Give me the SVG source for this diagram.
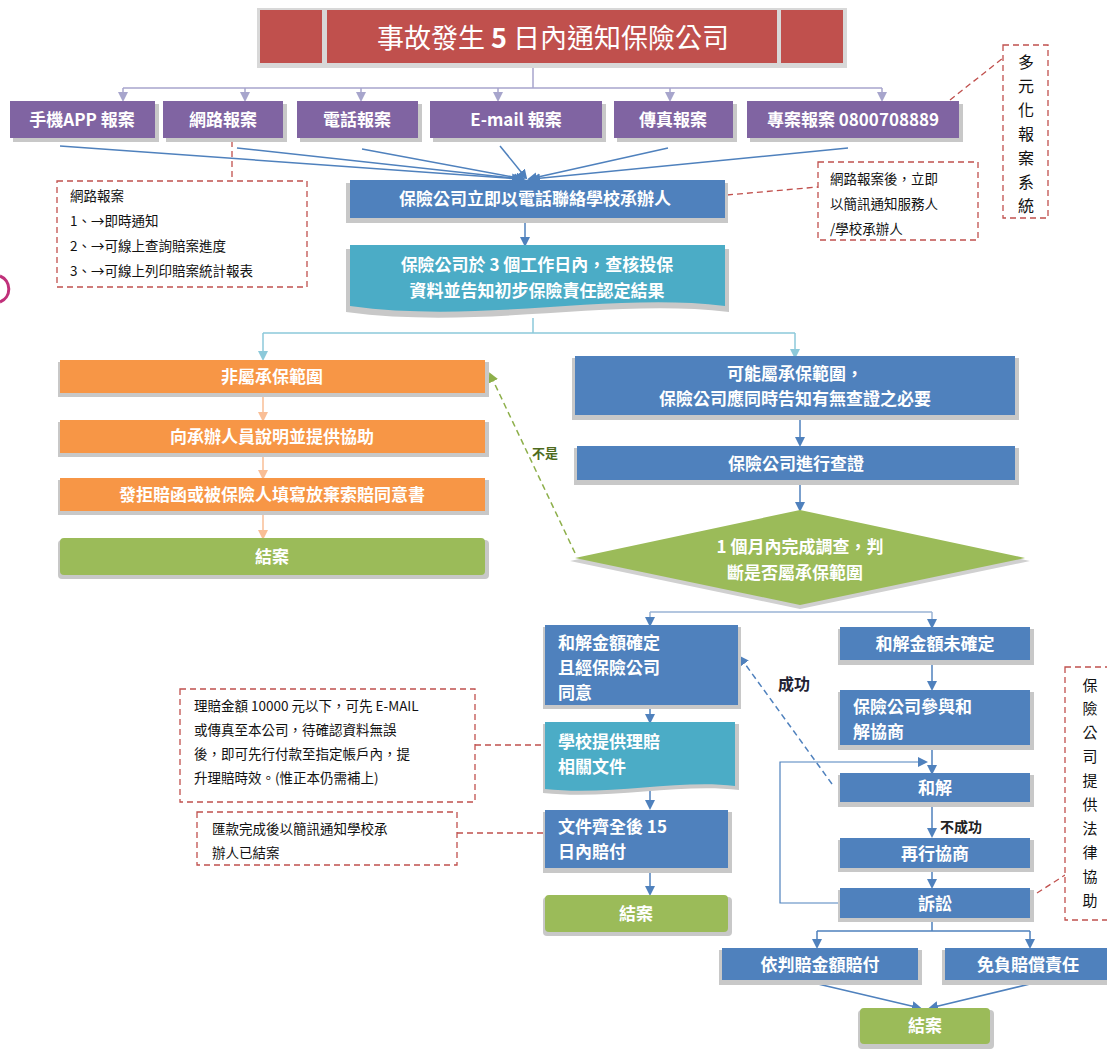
<svg xmlns="http://www.w3.org/2000/svg" width="1107" height="1050" viewBox="0 0 1107 1050">
<defs>
<style>
.t{font-family:"Noto Sans CJK TC","Noto Sans CJK SC",sans-serif;}
.w{fill:#fff;font-weight:bold;font-size:17px;}
.a{fill:#111;font-size:13.5px;}
.v{font-size:16px;}
.v2{font-size:15px;}
.sh{fill:#c8c8c8;}
.pur{fill:#8064A2;}
.blu{fill:#4F81BD;}
.tea{fill:#4BACC6;}
.ora{fill:#F79646;}
.gre{fill:#9BBB59;}
.red{fill:#C0504D;}
.note{fill:#fff;stroke:#C0504D;stroke-width:1.3;stroke-dasharray:6,4;}
.nl{fill:none;stroke:#C0504D;stroke-width:1.3;stroke-dasharray:6,4;}
.cp{fill:none;stroke:#A7A5CC;stroke-width:1.5;}
.cb{fill:none;stroke:#4F81BD;stroke-width:1.5;}
.ct{fill:none;stroke:#8CC9DA;stroke-width:1.5;}
.co{fill:none;stroke:#F9BE96;stroke-width:1.5;}
</style>
<marker id="mp" markerWidth="10" markerHeight="10" refX="8" refY="5" orient="auto" markerUnits="userSpaceOnUse"><path d="M0,0 L10,5 L0,10 z" fill="#A7A5CC"/></marker>
<marker id="mb" markerWidth="10" markerHeight="10" refX="8" refY="5" orient="auto" markerUnits="userSpaceOnUse"><path d="M0,0 L10,5 L0,10 z" fill="#4F81BD"/></marker>
<marker id="mt" markerWidth="10" markerHeight="10" refX="8" refY="5" orient="auto" markerUnits="userSpaceOnUse"><path d="M0,0 L10,5 L0,10 z" fill="#8CC9DA"/></marker>
<marker id="mo" markerWidth="10" markerHeight="10" refX="8" refY="5" orient="auto" markerUnits="userSpaceOnUse"><path d="M0,0 L10,5 L0,10 z" fill="#F9BE96"/></marker>
<marker id="mg" markerWidth="10" markerHeight="10" refX="8" refY="5" orient="auto" markerUnits="userSpaceOnUse"><path d="M0,0 L10,5 L0,10 z" fill="#8DAF4A"/></marker>
</defs>
<rect width="1107" height="1050" fill="#fff"/>
<path d="M0,276 A14,14 0 0 1 0,302" fill="none" stroke="#C0307A" stroke-width="3"/>

<g id="connectors">
<path class="cp" d="M533,66 V88"/>
<path class="cp" d="M123,88 H882"/>
<path class="cp" d="M123,88 V100" marker-end="url(#mp)"/>
<path class="cp" d="M245,88 V100" marker-end="url(#mp)"/>
<path class="cp" d="M361,88 V100" marker-end="url(#mp)"/>
<path class="cp" d="M498,88 V100" marker-end="url(#mp)"/>
<path class="cp" d="M670,88 V100" marker-end="url(#mp)"/>
<path class="cp" d="M882,88 V100" marker-end="url(#mp)"/>
<path class="cb" d="M60,146 L520,179" marker-end="url(#mb)"/>
<path class="cb" d="M237,148 L522,179" marker-end="url(#mb)"/>
<path class="cb" d="M362,149 L524,179" marker-end="url(#mb)"/>
<path class="cb" d="M500,146 L526,178" marker-end="url(#mb)"/>
<path class="cb" d="M668,148 L529,179" marker-end="url(#mb)"/>
<path class="cb" d="M848,148 L532,179" marker-end="url(#mb)"/>
<path class="cb" d="M525,222 V245" marker-end="url(#mb)"/>
<path class="ct" d="M533,318 V333 M263,333 H795"/>
<path class="ct" d="M263,333 V359" marker-end="url(#mt)"/>
<path class="ct" d="M795,333 V357" marker-end="url(#mt)"/>
<path class="co" d="M263,397 V420" marker-end="url(#mo)"/>
<path class="co" d="M263,457 V478" marker-end="url(#mo)"/>
<path class="co" d="M263,515 V538" marker-end="url(#mo)"/>
<path class="cb" d="M800,419 V445" marker-end="url(#mb)"/>
<path class="cb" d="M800,484 V510" marker-end="url(#mb)"/>
<path d="M575,553 L490,374" fill="none" stroke="#8DAF4A" stroke-width="1.5" stroke-dasharray="6,4" marker-end="url(#mg)"/>
<text class="t" x="532" y="458" font-size="13" font-weight="bold" fill="#4E6B1E">不是</text>
<path class="cp" d="M650,612 H932" style="stroke:#9AB3D5"/>
<path class="cp" d="M650,612 V625" style="stroke:#9AB3D5" marker-end="url(#mb)"/>
<path class="cp" d="M932,612 V627" style="stroke:#9AB3D5" marker-end="url(#mb)"/>
<path class="cb" d="M650,707 V722" marker-end="url(#mb)"/>
<path class="cb" d="M650,785 V808" marker-end="url(#mb)"/>
<path class="cb" d="M650,872 V894" marker-end="url(#mb)"/>
<path class="cb" d="M932,662 V689" marker-end="url(#mb)"/>
<path class="cb" d="M932,748 V773" marker-end="url(#mb)"/>
<path class="cb" d="M932,806 V836" marker-end="url(#mb)"/>
<text class="t" x="940" y="832" font-size="14" font-weight="bold" fill="#222">不成功</text>
<path class="cb" d="M932,871 V887" marker-end="url(#mb)"/>
<path class="cb" d="M838,903 H780 V762 H926" marker-end="url(#mb)" style="stroke-width:1.2"/>
<path class="cb" d="M832,784 L740,657" stroke-dasharray="6,4" marker-end="url(#mb)"/>
<text class="t" x="778" y="690" font-size="16" font-weight="bold" fill="#223">成功</text>
<path class="cb" d="M932,921 V931 M817,931 H1030"/>
<path class="cb" d="M817,931 V947" marker-end="url(#mb)"/>
<path class="cb" d="M1030,931 V947" marker-end="url(#mb)"/>
<path class="cb" d="M818,984 L920,1008" marker-end="url(#mb)"/>
<path class="cb" d="M1030,984 L930,1008" marker-end="url(#mb)"/>
<path class="nl" d="M232,141 V180"/>
<path class="nl" d="M727,195 L818,187"/>
<path class="nl" d="M950,100 L1003,58"/>
<path class="nl" d="M455,745 H545"/>
<path class="nl" d="M457,833 H545"/>
<path class="nl" d="M1037,893 L1065,875"/>
</g>

<g id="title">
<rect x="257" y="8" width="590" height="60" fill="#d8d8d8"/>
<rect class="red" x="260" y="10" width="62" height="53"/>
<rect class="red" x="327" y="10" width="450" height="53"/>
<rect class="red" x="781" y="10" width="62" height="53"/>
<text class="t" x="553" y="48" text-anchor="middle" font-size="27" fill="#fff">事故發生 <tspan font-weight="bold">5</tspan> 日內通知保險公司</text>
</g>

<g id="report-app"><rect class="sh" x="13" y="104" width="146" height="38"/><rect class="pur" x="10" y="101" width="145" height="37"/><text class="t w" x="82" y="126" text-anchor="middle">手機APP 報案</text></g>
<g id="report-web"><rect class="sh" x="166" y="104" width="121" height="38"/><rect class="pur" x="163" y="101" width="120" height="37"/><text class="t w" x="223" y="126" text-anchor="middle">網路報案</text></g>
<g id="report-phone"><rect class="sh" x="300" y="104" width="122" height="38"/><rect class="pur" x="297" y="101" width="121" height="37"/><text class="t w" x="357" y="126" text-anchor="middle">電話報案</text></g>
<g id="report-email"><rect class="sh" x="433" y="104" width="173" height="38"/><rect class="pur" x="430" y="101" width="172" height="37"/><text class="t w" x="516" y="126" text-anchor="middle">E-mail 報案</text></g>
<g id="report-fax"><rect class="sh" x="617" y="104" width="120" height="38"/><rect class="pur" x="614" y="101" width="119" height="37"/><text class="t w" x="673" y="126" text-anchor="middle">傳真報案</text></g>
<g id="report-hotline"><rect class="sh" x="750" y="104" width="213" height="38"/><rect class="pur" x="747" y="101" width="212" height="37"/><text class="t w" x="853" y="126" text-anchor="middle">專案報案 0800708889</text></g>

<g id="call-school"><rect class="sh" x="346" y="183" width="382" height="40"/><rect class="blu" x="350" y="180" width="375" height="38"/><text class="t w" x="535" y="205" text-anchor="middle">保險公司立即以電話聯絡學校承辦人</text></g>
<g id="check-3days">
<path d="M346,249 H729 V312 C610,298 480,330 346,312 Z" fill="#c8c8c8"/>
<path class="tea" d="M350,245 H725 V306 C610,292 480,324 350,306 Z"/>
<text class="t w" x="537" y="271" text-anchor="middle">保險公司於 3 個工作日內，查核投保</text>
<text class="t w" x="537" y="297" text-anchor="middle">資料並告知初步保險責任認定結果</text>
</g>

<g id="not-covered"><rect class="sh" x="58" y="362" width="431" height="35"/><rect class="ora" x="60" y="360" width="425" height="33"/><text class="t w" x="272" y="383" text-anchor="middle">非屬承保範圍</text></g>
<g id="explain"><rect class="sh" x="58" y="422" width="431" height="35"/><rect class="ora" x="60" y="420" width="425" height="33"/><text class="t w" x="272" y="443" text-anchor="middle">向承辦人員說明並提供協助</text></g>
<g id="reject-letter"><rect class="sh" x="58" y="480" width="431" height="35"/><rect class="ora" x="60" y="478" width="425" height="33"/><text class="t w" x="272" y="501" text-anchor="middle">發拒賠函或被保險人填寫放棄索賠同意書</text></g>
<g id="close-left"><rect class="sh" x="58" y="540" width="431" height="39" rx="4"/><rect class="gre" x="60" y="538" width="425" height="37" rx="4"/><text class="t w" x="272" y="563" text-anchor="middle">結案</text></g>

<g id="maybe-covered"><rect class="sh" x="572" y="358" width="447" height="62"/><rect class="blu" x="575" y="356" width="440" height="59"/><text class="t w" x="795" y="380" text-anchor="middle">可能屬承保範圍，</text><text class="t w" x="795" y="405" text-anchor="middle">保險公司應同時告知有無查證之必要</text></g>
<g id="verify"><rect class="sh" x="574" y="448" width="445" height="37"/><rect class="blu" x="577" y="446" width="438" height="34"/><text class="t w" x="796" y="470" text-anchor="middle">保險公司進行查證</text></g>
<g id="decision">
<path d="M800,512 L1030,561 L800,609 L570,561 Z" fill="#d0d0d0"/>
<path class="gre" d="M800,510 L1025,558 L800,605 L575,558 Z"/>
<text class="t w" x="800" y="553" text-anchor="middle">1 個月內完成調查，判</text>
<text class="t w" x="795" y="579" text-anchor="middle">斷是否屬承保範圍</text>
</g>

<g id="settled-amount"><rect class="sh" x="543" y="627" width="198" height="82"/><rect class="blu" x="545" y="625" width="193" height="80"/><text class="t w" x="558" y="649">和解金額確定</text><text class="t w" x="558" y="674">且經保險公司</text><text class="t w" x="558" y="699">同意</text></g>
<g id="school-docs">
<path d="M543,724 H739 V790 C680,783 610,800 543,793 Z" fill="#c8c8c8"/>
<path class="tea" d="M545,722 H735 V786 C680,779 610,796 545,789 Z"/>
<text class="t w" x="558" y="748">學校提供理賠</text><text class="t w" x="558" y="773">相關文件</text>
</g>
<g id="pay-15days"><rect class="sh" x="543" y="812" width="189" height="61"/><rect class="blu" x="545" y="810" width="183" height="58"/><text class="t w" x="558" y="833">文件齊全後 15</text><text class="t w" x="558" y="858">日內賠付</text></g>
<g id="close-mid"><rect class="sh" x="543" y="897" width="189" height="39" rx="4"/><rect class="gre" x="545" y="895" width="183" height="37" rx="4"/><text class="t w" x="636" y="920" text-anchor="middle">結案</text></g>

<g id="unsettled"><rect class="sh" x="838" y="629" width="196" height="36"/><rect class="blu" x="840" y="627" width="190" height="33"/><text class="t w" x="935" y="650" text-anchor="middle">和解金額未確定</text></g>
<g id="negotiate"><rect class="sh" x="838" y="692" width="196" height="58"/><rect class="blu" x="840" y="690" width="190" height="55"/><text class="t w" x="853" y="713">保險公司參與和</text><text class="t w" x="853" y="738">解協商</text></g>
<g id="settle"><rect class="sh" x="838" y="775" width="196" height="32"/><rect class="blu" x="840" y="773" width="190" height="29"/><text class="t w" x="935" y="794" text-anchor="middle">和解</text></g>
<g id="renegotiate"><rect class="sh" x="838" y="840" width="196" height="32"/><rect class="blu" x="840" y="838" width="190" height="30"/><text class="t w" x="935" y="860" text-anchor="middle">再行協商</text></g>
<g id="lawsuit"><rect class="sh" x="838" y="890" width="196" height="32"/><rect class="blu" x="840" y="888" width="190" height="30"/><text class="t w" x="935" y="910" text-anchor="middle">訴訟</text></g>
<g id="pay-judgment"><rect class="sh" x="719" y="950" width="203" height="35"/><rect class="blu" x="722" y="948" width="196" height="32"/><text class="t w" x="820" y="971" text-anchor="middle">依判賠金額賠付</text></g>
<g id="exempt"><rect class="sh" x="942" y="950" width="165" height="35"/><rect class="blu" x="945" y="948" width="162" height="32"/><text class="t w" x="1028" y="971" text-anchor="middle">免負賠償責任</text></g>
<g id="close-bottom"><rect class="sh" x="858" y="1010" width="136" height="39" rx="4"/><rect class="gre" x="860" y="1008" width="130" height="36" rx="4"/><text class="t w" x="925" y="1032" text-anchor="middle">結案</text></g>

<g id="note-web">
<rect class="note" x="57" y="181" width="250" height="106"/>
<text class="t a" x="70" y="201">網路報案</text>
<text class="t a" x="70" y="226">1、→即時通知</text>
<text class="t a" x="70" y="251">2、→可線上查詢賠案進度</text>
<text class="t a" x="70" y="276">3、→可線上列印賠案統計報表</text>
</g>
<g id="note-sms">
<rect class="note" x="818" y="162" width="160" height="78"/>
<text class="t a" x="830" y="184">網路報案後，立即</text>
<text class="t a" x="830" y="209">以簡訊通知服務人</text>
<text class="t a" x="830" y="234">/學校承辦人</text>
</g>
<g id="note-multi">
<rect class="note" x="1003" y="45" width="45" height="173"/>
<text class="t a v" x="1026" y="68" text-anchor="middle">多</text>
<text class="t a v" x="1026" y="92" text-anchor="middle">元</text>
<text class="t a v" x="1026" y="116" text-anchor="middle">化</text>
<text class="t a v" x="1026" y="140" text-anchor="middle">報</text>
<text class="t a v" x="1026" y="164" text-anchor="middle">案</text>
<text class="t a v" x="1026" y="188" text-anchor="middle">系</text>
<text class="t a v" x="1026" y="212" text-anchor="middle">統</text>
</g>
<g id="note-small-claim">
<rect class="note" x="180" y="689" width="295" height="113"/>
<text class="t a" x="194" y="711">理賠金額 10000 元以下，可先 E-MAIL</text>
<text class="t a" x="194" y="735">或傳真至本公司，待確認資料無誤</text>
<text class="t a" x="194" y="759">後，即可先行付款至指定帳戶內，提</text>
<text class="t a" x="194" y="783">升理賠時效。(惟正本仍需補上)</text>
</g>
<g id="note-remit">
<rect class="note" x="197" y="812" width="260" height="53"/>
<text class="t a" x="212" y="834">匯款完成後以簡訊通知學校承</text>
<text class="t a" x="212" y="858">辦人已結案</text>
</g>
<g id="note-legal">
<rect class="note" x="1065" y="667" width="50" height="253"/>
<text class="t a v2" x="1090" y="691" text-anchor="middle">保</text>
<text class="t a v2" x="1090" y="714" text-anchor="middle">險</text>
<text class="t a v2" x="1090" y="738" text-anchor="middle">公</text>
<text class="t a v2" x="1090" y="762" text-anchor="middle">司</text>
<text class="t a v2" x="1090" y="786" text-anchor="middle">提</text>
<text class="t a v2" x="1090" y="810" text-anchor="middle">供</text>
<text class="t a v2" x="1090" y="834" text-anchor="middle">法</text>
<text class="t a v2" x="1090" y="858" text-anchor="middle">律</text>
<text class="t a v2" x="1090" y="882" text-anchor="middle">協</text>
<text class="t a v2" x="1090" y="906" text-anchor="middle">助</text>
</g>
</svg>
